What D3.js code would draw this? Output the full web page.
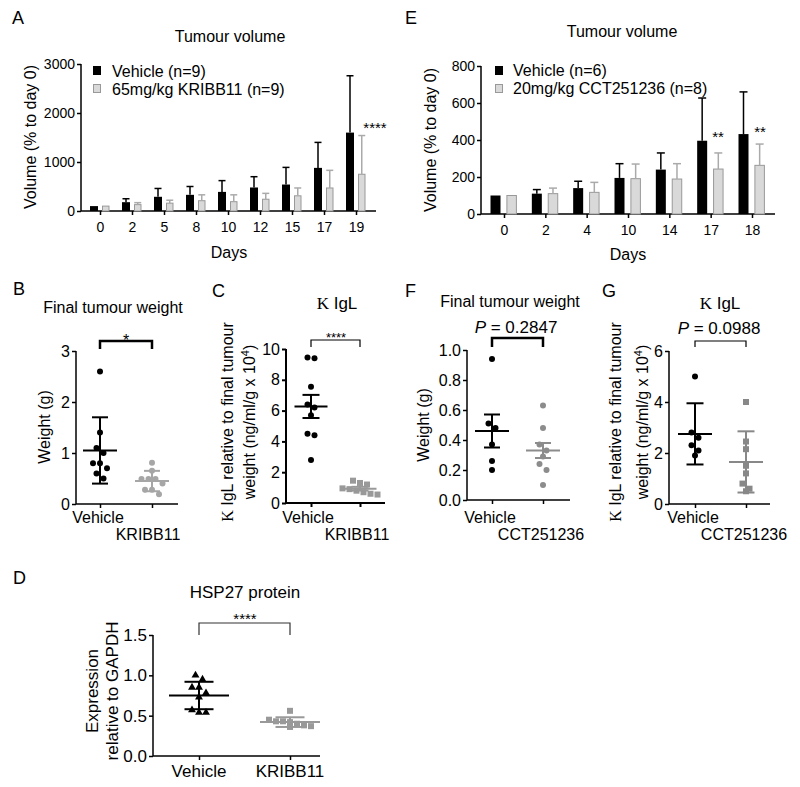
<!DOCTYPE html>
<html><head><meta charset="utf-8">
<script src="https://cdn.jsdelivr.net/npm/d3@7"></script>
<style>body{margin:0;background:#fff} svg text{font-family:"Liberation Sans",Arial,sans-serif;fill:#000}</style>
</head><body><svg id="c" width="800" height="787"></svg>
<script>
// ---------- DATA ----------
const daysA = ["0","2","5","8","10","12","15","17","19"];
const vehicleA = [100,180,290,330,390,480,540,880,1600];
const vehicleATop = [100,250,460,500,620,700,890,1400,2760];
const kribbA = [100,130,160,210,190,240,310,470,750];
const kribbATop = [100,170,220,330,330,360,470,830,1540];
const yTicksA = [0,1000,2000,3000];

const daysE = ["0","2","4","10","14","17","18"];
const vehicleE = [100,110,140,195,240,396,432];
const vehicleETop = [100,132,177,272,330,627,660];
const cctE = [100,110,117,191,189,243,263];
const cctETop = [100,140,171,270,272,330,378];
const yTicksE = [0,200,400,600,800];

const weightB_vehicle = [2.6,1.4,1.1,1.0,0.8,0.8,0.7,0.6,0.5];
const weightB_kribb = [0.81,0.65,0.49,0.49,0.49,0.4,0.28,0.28,0.19];
const weightB_mean = [1.05,0.45], weightB_err = [0.65,0.2];

const iglC_vehicle = [9.45,9.4,7.55,6.4,6.2,5.7,4.5,4.4,2.8];
const iglC_kribb = [1.45,1.3,1.2,0.95,0.9,0.8,0.7,0.6,0.55];
const iglC_mean = [6.27,0.93], iglC_err = [0.75,0.12];

const weightF_vehicle = [0.94,0.51,0.48,0.37,0.26,0.2];
const weightF_cct = [0.63,0.48,0.37,0.33,0.29,0.24,0.2,0.1];
const weightF_mean = [0.46,0.33], weightF_err = [0.11,0.05];

const iglG_vehicle = [5.0,2.8,2.6,2.3,2.1,1.9];
const iglG_cct = [4.0,2.45,2.15,1.5,1.2,0.8,0.6,0.5];
const iglG_mean = [2.75,1.65], iglG_err = [1.2,1.2];

const hspD_vehicle = [1.0,0.95,0.85,0.85,0.78,0.73,0.57,0.54,0.54];
const hspD_kribb = [0.56,0.45,0.43,0.43,0.42,0.4,0.38,0.37,0.36];
const hspD_mean = [0.75,0.42], hspD_err = [0.17,0.06];

// ---------- DRAW ----------
const svg = d3.select("#c");
const FONT = '"Liberation Sans",Arial,sans-serif';

function txt(x,y,s,size,anchor,extra){
  const t = svg.append("text").attr("x",x).attr("y",y).attr("font-size",size)
    .attr("text-anchor",anchor||"middle").text(s);
  if(extra) extra(t);
  return t;
}
function styleAxis(g,fs,sw){
  g.attr("font-family",FONT).attr("font-size",fs);
  g.selectAll("line").attr("stroke","#000").attr("stroke-width",sw||1.5);
  g.selectAll("text").attr("fill","#000");
  g.select(".domain").remove();
}
function line(x1,y1,x2,y2,c,w){
  svg.append("line").attr("x1",x1).attr("y1",y1).attr("x2",x2).attr("y2",y2)
    .attr("stroke",c||"#000").attr("stroke-width",w||1.5);
}

function barPanel(o){
  const y = d3.scaleLinear().domain([0,o.yMax]).range([o.y0,o.yTop]);
  const x = d3.scalePoint().domain(o.days).range(o.xRange);
  const ya = svg.append("g").attr("transform",`translate(${o.ax},0)`)
    .call(d3.axisLeft(y).tickValues(o.yTicks).tickSize(4).tickPadding(2).tickFormat(d3.format("d")));
  styleAxis(ya,14);
  line(o.ax,o.y0,o.ax,o.yTop);
  const xa = svg.append("g").attr("transform",`translate(0,${o.y0})`)
    .call(d3.axisBottom(x).tickSize(4).tickPadding(7));
  styleAxis(xa,14);
  line(o.ax,o.y0,o.xEnd,o.y0);
  o.series.forEach(s=>{
    const g = svg.append("g");
    g.selectAll("rect").data(o.days).join("rect")
      .attr("x",d=>x(d)+s.off).attr("width",s.w)
      .attr("y",(d,i)=>y(s.values[i])).attr("height",(d,i)=>o.y0-y(s.values[i]))
      .attr("fill",s.fill).attr("stroke",s.stroke||"none").attr("stroke-width",1);
    o.days.forEach((d,i)=>{
      if(s.tops[i]<=s.values[i]) return;
      const cx = x(d)+s.off+s.w/2;
      line(cx,y(s.values[i]),cx,y(s.tops[i]),s.err,1.5);
      line(cx-s.cap/2,y(s.tops[i]),cx+s.cap/2,y(s.tops[i]),s.err,1.5);
    });
  });
  return {x,y};
}

// Panel A
txt(12,24,"A",18,"start");
txt(230,42,"Tumour volume",16);
barPanel({days:daysA,yMax:3000,y0:211,yTop:64,xRange:[100,356],ax:81,xEnd:376,yTicks:yTicksA,
  series:[{values:vehicleA,tops:vehicleATop,fill:"#000",off:-10,w:8,err:"#000",cap:7},
          {values:kribbA,tops:kribbATop,fill:"#d9d9d9",stroke:"#999",off:2.5,w:6.5,err:"#aaa",cap:7}]});
svg.append("rect").attr("x",93).attr("y",66).attr("width",8).attr("height",9).attr("fill","#000");
svg.append("rect").attr("x",93.5).attr("y",84.5).attr("width",7).attr("height",8).attr("fill","#d9d9d9").attr("stroke","#999");
txt(112,77,"Vehicle (n=9)",16,"start");
txt(112,95,"65mg/kg KRIBB11 (n=9)",16,"start");
txt(375,133,"****",15);
txt(36,137,"Volume (% to day 0)",16,"middle",t=>t.attr("transform","rotate(-90,36,137)").attr("x",36).attr("y",137));
txt(229,258,"Days",16);

// Panel E
txt(405,24,"E",18,"start");
txt(622,37,"Tumour volume",16);
barPanel({days:daysE,yMax:800,y0:214,yTop:66,xRange:[504,752],ax:481,xEnd:775,yTicks:yTicksE,
  series:[{values:vehicleE,tops:vehicleETop,fill:"#000",off:-13.5,w:10,err:"#000",cap:8},
          {values:cctE,tops:cctETop,fill:"#d9d9d9",stroke:"#999",off:2.9,w:9.5,err:"#aaa",cap:8}]});
svg.append("rect").attr("x",495).attr("y",66).attr("width",8).attr("height",9).attr("fill","#000");
svg.append("rect").attr("x",495.5).attr("y",84.5).attr("width",7).attr("height",8).attr("fill","#d9d9d9").attr("stroke","#999");
txt(513,76,"Vehicle (n=6)",16,"start");
txt(513,94,"20mg/kg CCT251236 (n=8)",16,"start");
txt(718,142,"**",15);
txt(760,137,"**",15);
txt(436,140,"Volume (% to day 0)",16,"middle",t=>t.attr("transform","rotate(-90,436,140)"));
txt(628,260,"Days",16);

// ---------- dot plots ----------
function drawMarker(g,shape,cx,cy,c,sz){
  if(shape==="circle") g.append("circle").attr("cx",cx).attr("cy",cy).attr("r",sz/2).attr("fill",c);
  else if(shape==="square") g.append("rect").attr("x",cx-sz/2).attr("y",cy-sz/2).attr("width",sz).attr("height",sz).attr("fill",c);
  else g.append("path").attr("d",d3.symbol(d3.symbolTriangle,sz*sz*0.75)()).attr("transform",`translate(${cx},${cy})`).attr("fill",c);
}
function swarm(vals,y,sp){
  const pts = vals.map(v=>({v,py:y(v)})).sort((a,b)=>a.py-b.py);
  const rows=[]; 
  pts.forEach(p=>{
    const r = rows[rows.length-1];
    if(r && Math.abs(p.py-r[0].py)<sp) r.push(p); else rows.push([p]);
  });
  rows.forEach(r=>r.forEach((p,i)=>p.dx=(i-(r.length-1)/2)*sp));
  return pts;
}
function dotPanel(o){
  const y = d3.scaleLinear().domain(o.yDomain).range([o.y0,o.yTop]);
  const ya = svg.append("g").attr("transform",`translate(${o.ax},0)`)
    .call(d3.axisLeft(y).tickValues(o.yTicks).tickSize(4).tickPadding(2).tickFormat(o.fmt||d3.format("d")));
  styleAxis(ya,o.tickFs||16,o.axW||1.5);
  line(o.ax,o.y0,o.ax,o.yTop,"#000",o.axW||1.5);
  const xs = d3.scaleOrdinal().domain(o.groups.map(g=>g.name)).range(o.groups.map(g=>g.x));
  const xa = svg.append("g").attr("transform",`translate(0,${o.y0})`)
    .call(d3.axisBottom(xs).tickSize(4).tickFormat(""));
  styleAxis(xa,16,o.axW||1.5);
  line(o.ax,o.y0,o.xEnd,o.y0,"#000",o.axW||1.5);
  o.groups.forEach(g=>{
    const gg = svg.append("g");
    swarm(g.values,y,o.sp).forEach(p=>drawMarker(gg,g.shape,g.x+p.dx,p.py,g.color,o.msz));
    const m=y(g.mean), t=y(g.mean+g.err), b=y(Math.max(0,g.mean-g.err));
    line(g.x-o.mw/2,m,g.x+o.mw/2,m,g.color,o.lw);
    line(g.x,t,g.x,b,g.color,o.lw);
    line(g.x-o.cw/2,t,g.x+o.cw/2,t,g.color,o.lw);
    line(g.x-o.cw/2,b,g.x+o.cw/2,b,g.color,o.lw);
    txt(g.x+(g.ldx||0),g.ly,g.name,o.labFs||16);
  });
  // bracket
  const x1=o.groups[0].x, x2=o.groups[1].x;
  svg.append("path").attr("d",`M${x1},${o.brLeg}V${o.brY}H${x2}V${o.brLeg}`)
    .attr("fill","none").attr("stroke",o.brC||"#000").attr("stroke-width",o.brW);
}
function kappaTitle(x,y,rest,size){
  const t = svg.append("text").attr("x",x).attr("y",y).attr("font-size",size).attr("text-anchor","middle");
  t.append("tspan").attr("font-family",'"Liberation Serif","Times New Roman",serif').text("Κ");
  t.append("tspan").text(rest);
  return t;
}
function kappaYLabel(cx,cy,x1,x2){
  const t1 = svg.append("text").attr("transform",`translate(${x1},${cy}) rotate(-90)`).attr("font-size",16).attr("text-anchor","middle");
  t1.append("tspan").attr("font-family",'"Liberation Serif","Times New Roman",serif').text("Κ");
  t1.append("tspan").text(" IgL relative to final tumour");
  const t2 = svg.append("text").attr("transform",`translate(${x2},${cy}) rotate(-90)`).attr("font-size",16).attr("text-anchor","middle");
  t2.append("tspan").text("weight (ng/ml/g x 10");
  t2.append("tspan").attr("dy",-6).attr("font-size",11).text("4");
  t2.append("tspan").attr("dy",6).text(")");
}

// Panel B
txt(13,295,"B",18,"start");
txt(113,313,"Final tumour weight",16);
txt(126,346,"*",16);
txt(50,427,"Weight (g)",16,"middle",t=>t.attr("transform","rotate(-90,50,427)"));
dotPanel({yDomain:[0,3],y0:504,yTop:351,ax:76,xEnd:178,yTicks:[0,1,2,3],sp:7,msz:6,mw:34,cw:16,lw:2,
  brY:341,brLeg:349,brW:2.5,
  groups:[{name:"Vehicle",x:100,values:weightB_vehicle,mean:weightB_mean[0],err:weightB_err[0],color:"#000",shape:"circle",ly:523,ldx:-2},
          {name:"KRIBB11",x:152,values:weightB_kribb,mean:weightB_mean[1],err:weightB_err[1],color:"#a6a6a6",shape:"circle",ly:540,ldx:-4}]});

// Panel C
txt(212,297,"C",18,"start");
kappaTitle(337,309," IgL",17);
txt(336,342,"****",13);
kappaYLabel(0,422,233,255);
dotPanel({yDomain:[0,10],y0:503,yTop:349,ax:286,xEnd:385,yTicks:[0,2,4,6,8,10],sp:7,msz:6,mw:33,cw:17,lw:2,axW:2,
  brY:340,brLeg:347,brW:1.2,
  groups:[{name:"Vehicle",x:311,values:iglC_vehicle,mean:iglC_mean[0],err:iglC_err[0],color:"#000",shape:"circle",ly:523,ldx:-3},
          {name:"KRIBB11",x:360,values:iglC_kribb,mean:iglC_mean[1],err:iglC_err[1],color:"#999",shape:"square",ly:540,ldx:-3}]});

// Panel F
txt(405,297,"F",18,"start");
txt(510,307,"Final tumour weight",16);
const pF = svg.append("text").attr("x",516).attr("y",333).attr("font-size",17).attr("text-anchor","middle");
pF.append("tspan").attr("font-style","italic").text("P");
pF.append("tspan").text(" = 0.2847");
txt(429,425,"Weight (g)",16,"middle",t=>t.attr("transform","rotate(-90,429,425)"));
dotPanel({yDomain:[0,1],y0:500,yTop:350,ax:467,xEnd:570,yTicks:[0,0.2,0.4,0.6,0.8,1.0],fmt:d3.format(".1f"),sp:7,msz:6,mw:34,cw:16,lw:2,
  brY:338,brLeg:347,brW:2.5,
  groups:[{name:"Vehicle",x:492,values:weightF_vehicle,mean:weightF_mean[0],err:weightF_err[0],color:"#000",shape:"circle",ly:523,ldx:-2},
          {name:"CCT251236",x:543,values:weightF_cct,mean:weightF_mean[1],err:weightF_err[1],color:"#8c8c8c",shape:"circle",ly:540,ldx:-2}]});

// Panel G
txt(602,297,"G",18,"start");
kappaTitle(720,309," IgL",17);
const pG = svg.append("text").attr("x",719).attr("y",334).attr("font-size",17).attr("text-anchor","middle");
pG.append("tspan").attr("font-style","italic").text("P");
pG.append("tspan").text(" = 0.0988");
kappaYLabel(0,422,621,648);
dotPanel({yDomain:[0,6],y0:504,yTop:351,ax:669,xEnd:770,yTicks:[0,2,4,6],sp:7,msz:6,mw:34,cw:17,lw:2,
  brY:341,brLeg:347,brW:1.2,
  groups:[{name:"Vehicle",x:695,values:iglG_vehicle,mean:iglG_mean[0],err:iglG_err[0],color:"#000",shape:"circle",ly:523,ldx:-2},
          {name:"CCT251236",x:746,values:iglG_cct,mean:iglG_mean[1],err:iglG_err[1],color:"#888",shape:"square",ly:540,ldx:-2}]});

// Panel D
txt(13,584,"D",18,"start");
txt(245,598,"HSP27 protein",17);
txt(245,624,"****",15);
const dl = svg.append("text").attr("transform","translate(98,691) rotate(-90)").attr("font-size",17).attr("text-anchor","middle").text("Expression");
const dl2 = svg.append("text").attr("transform","translate(118,691) rotate(-90)").attr("font-size",17).attr("text-anchor","middle").text("relative to GAPDH");
dotPanel({yDomain:[0,1.5],y0:756,yTop:635,ax:153,xEnd:320,yTicks:[0,0.5,1.0,1.5],fmt:d3.format(".1f"),tickFs:17,labFs:17,sp:7,msz:6,mw:60,cw:29,lw:2,
  brY:623,brLeg:635,brW:1.2,brC:"#333",
  groups:[{name:"Vehicle",x:199,values:hspD_vehicle,mean:hspD_mean[0],err:hspD_err[0],color:"#000",shape:"triangle",ly:777},
          {name:"KRIBB11",x:290,values:hspD_kribb,mean:hspD_mean[1],err:hspD_err[1],color:"#999",shape:"square",ly:777}]});
</script></body></html>
